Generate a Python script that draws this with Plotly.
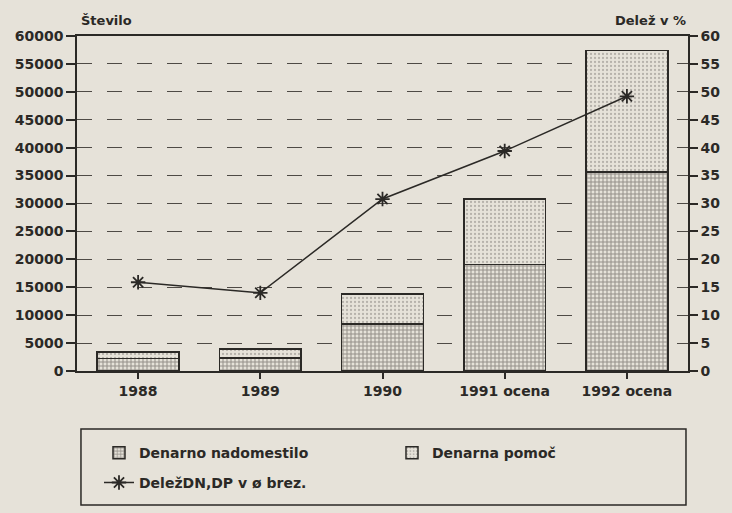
import plotly.graph_objects as go

categories = ["1988", "1989", "1990", "1991 ocena", "1992 ocena"]
denarno_nadomestilo = [2200, 2300, 8400, 19100, 35600]
denarna_pomoc = [1200, 1650, 5400, 11700, 21800]
delez = [15.9, 14.0, 30.8, 39.4, 49.2]

left_ticks = list(range(0, 60001, 5000))
right_ticks = list(range(0, 61, 5))

paper = "#e6e2d9"
ink = "#2b2926"
font = "DejaVu Sans"
bold = dict(family=font, size=14, color=ink, weight="bold")

fig = go.Figure()
fig.add_trace(go.Bar(
    x=categories, y=denarno_nadomestilo, name="Denarno nadomestilo", legend="legend",
    marker=dict(color=paper, line=dict(color=ink, width=1.5),
                pattern=dict(shape="+", size=4, solidity=0.45, fgcolor="#423f3b", bgcolor=paper)),
))
fig.add_trace(go.Bar(
    x=categories, y=denarna_pomoc, name="Denarna pomoč", legend="legend",
    marker=dict(color=paper, line=dict(color=ink, width=1.5),
                pattern=dict(shape=".", size=4, solidity=0.25, fgcolor="#85817b", bgcolor=paper)),
))
fig.add_trace(go.Scatter(
    x=categories, y=delez, name="DeležDN,DP v ø brez.", yaxis="y2", legend="legend2",
    mode="lines+markers",
    line=dict(color=ink, width=1.5),
    marker=dict(symbol="asterisk-open", size=12, color=ink, line=dict(color=ink, width=1.8)),
))

fig.update_layout(
    width=732, height=513,
    margin=dict(l=77, r=40, t=36, b=142),
    paper_bgcolor=paper, plot_bgcolor=paper,
    barmode="stack", bargap=0.33,
    font=dict(family=font, size=14, color=ink),
    showlegend=True,
    legend=dict(
        orientation="h", x=0.036, y=-0.245, xanchor="left", yanchor="middle",
        borderwidth=0, bgcolor="rgba(0,0,0,0)", traceorder="normal",
        entrywidth=248, font=bold, itemwidth=30,
    ),
    legend2=dict(
        orientation="h", x=0.036, y=-0.334, xanchor="left", yanchor="middle",
        borderwidth=0, bgcolor="rgba(0,0,0,0)",
        font=bold, itemwidth=30,
    ),
    xaxis=dict(
        showline=True, linecolor=ink, linewidth=1.5, mirror=True,
        ticks="outside", ticklen=6, tickcolor=ink, tickwidth=1.5,
        tickfont=bold, showgrid=False,
    ),
    yaxis=dict(
        range=[0, 60000], tickvals=left_ticks, ticktext=[str(v) for v in left_ticks],
        showline=True, linecolor=ink, linewidth=1.5,
        ticks="outside", ticklen=9, tickcolor=ink, tickwidth=1.5,
        tickfont=bold,
        showgrid=True, gridcolor="#4e4a45", gridwidth=1, griddash="longdash",
        zeroline=False,
    ),
    yaxis2=dict(
        range=[0, 60], tickvals=right_ticks, overlaying="y", side="right",
        showline=True, linecolor=ink, linewidth=1.5,
        ticks="outside", ticklen=8, tickcolor=ink, tickwidth=1.5,
        tickfont=bold, showgrid=False, zeroline=False,
    ),
    shapes=[
        dict(type="rect", xref="paper", yref="paper", x0=0.0065, x1=0.9967, y0=-0.40, y1=-0.173,
             line=dict(color=ink, width=1.5), fillcolor="rgba(0,0,0,0)", layer="above"),
    ],
    annotations=[
        dict(text="Število", x=0, y=1.0, xref="paper", yref="paper", xanchor="left", yanchor="bottom",
             yshift=6, xshift=2, showarrow=False, font=dict(family=font, size=13, color=ink, weight="bold")),
        dict(text="Delež v %", x=1, y=1.0, xref="paper", yref="paper", xanchor="right", yanchor="bottom",
             yshift=6, xshift=0, showarrow=False, font=dict(family=font, size=13, color=ink, weight="bold")),
    ],
)

fig.write_html(
    "out.html",
    config={"displayModeBar": False},
    post_script="document.body.style.margin='0';document.body.style.overflow='hidden';",
)
